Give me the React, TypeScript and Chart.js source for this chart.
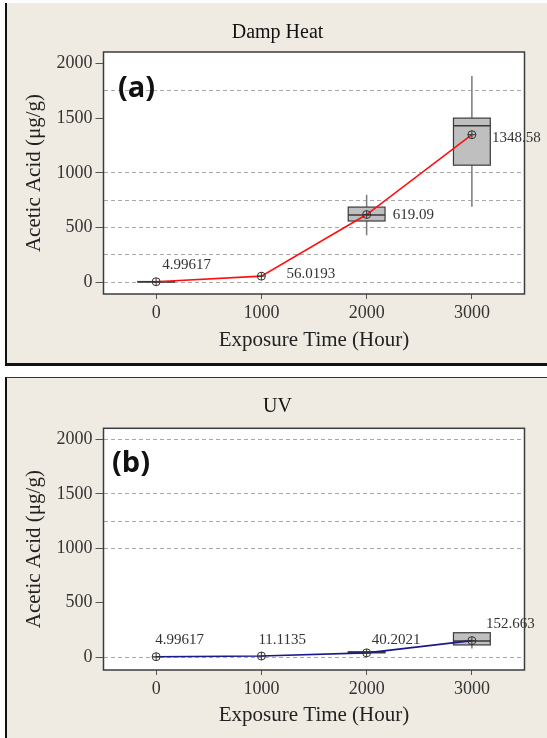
import React, { useEffect, useRef } from "react";
import { Chart, registerables } from "chart.js";

Chart.register(...registerables);

// ---------- data ----------
const HOURS = [0, 1000, 2000, 3000];
const X_TICKS = [0, 1000, 2000, 3000];
const Y_TICKS = [0, 250, 500, 750, 1000, 1250, 1500, 1750, 2000];
const Y_LABELS = [0, 500, 1000, 1500, 2000];

// Damp Heat (a)
const DH_MEAN = [4.99617, 56.0193, 619.09, 1348.58];
const DH_TEXT = ["4.99617", "56.0193", "619.09", "1348.58"];
const DH_Q1: (number | null)[] = [3, null, 560, 1070];
const DH_MED: (number | null)[] = [5, null, 614, 1430];
const DH_Q3: (number | null)[] = [7, null, 687, 1500];
const DH_LO: (number | null)[] = [3, null, 430, 690];
const DH_HI: (number | null)[] = [7, null, 800, 1885];
const DH_GRID = [0, 250, 500, 750, 1000, 1750];

// UV (b)
const UV_MEAN = [4.99617, 11.1135, 40.2021, 152.663];
const UV_TEXT = ["4.99617", "11.1135", "40.2021", "152.663"];
const UV_Q1: (number | null)[] = [null, null, 40, 113];
const UV_MED: (number | null)[] = [null, null, 45, 150];
const UV_Q3: (number | null)[] = [null, null, 50, 225];
const UV_LO: (number | null)[] = [null, null, 40, 80];
const UV_HI: (number | null)[] = [null, null, 50, 225];
const UV_GRID = [0, 1000, 1250, 1500, 2000];

// ---------- styles ----------
const SERIF = '"Liberation Serif", "Times New Roman", serif';
const PANEL_BG = "#efebe2";
const BOX_HALF = 175;

type PanelProps = {
  top: number;
  height: number;
  title: string;
  tag: string;
  mean: number[];
  text: string[];
  q1: (number | null)[];
  med: (number | null)[];
  q3: (number | null)[];
  lo: (number | null)[];
  hi: (number | null)[];
  grid: number[];
  lineColor: string;
  yMin: number;
  yMax: number;
  areaTop: number;
  areaBottom: number;
  titleY: number;
  tagX: number;
  tagY: number;
  xTitlePad: number;
  labelOffsets: [number, number][];
};

function Panel(p: PanelProps) {
  const ref = useRef<HTMLCanvasElement | null>(null);
  useEffect(() => {
    const canvas = ref.current;
    if (!canvas) return;
    const pts = HOURS.map((h, i) => ({ x: h, y: p.mean[i] }));

    const panelPlugin = {
      id: "panelPlugin",
      beforeDraw(chart: any) {
        const { ctx, chartArea: a } = chart;
        ctx.save();
        ctx.fillStyle = "#ffffff";
        ctx.fillRect(a.left, a.top, a.right - a.left, a.bottom - a.top);
        ctx.restore();
      },
      beforeDatasetsDraw(chart: any) {
        const { ctx, scales } = chart;
        const x = scales.x;
        const y = scales.y;
        HOURS.forEach((h, i) => {
          const q1 = p.q1[i];
          const q3 = p.q3[i];
          const md = p.med[i];
          const lo = p.lo[i];
          const hi = p.hi[i];
          if (q1 == null || q3 == null || md == null || lo == null || hi == null) return;
          const xc = x.getPixelForValue(h);
          const xl = x.getPixelForValue(h - BOX_HALF);
          const xr = x.getPixelForValue(h + BOX_HALF);
          const y1 = y.getPixelForValue(q1);
          const y3 = y.getPixelForValue(q3);
          const ym = y.getPixelForValue(md);
          const yl = y.getPixelForValue(lo);
          const yh = y.getPixelForValue(hi);
          ctx.save();
          ctx.strokeStyle = "#7c7c7c";
          ctx.lineWidth = 1.5;
          ctx.beginPath();
          ctx.moveTo(xc, yh);
          ctx.lineTo(xc, y3);
          ctx.moveTo(xc, y1);
          ctx.lineTo(xc, yl);
          ctx.stroke();
          ctx.fillStyle = "#bfbfbf";
          ctx.fillRect(xl, y3, xr - xl, y1 - y3);
          ctx.strokeStyle = "#3a3a3a";
          ctx.lineWidth = 1.2;
          ctx.strokeRect(xl, y3, xr - xl, y1 - y3);
          ctx.lineWidth = 1.5;
          ctx.beginPath();
          ctx.moveTo(xl, ym);
          ctx.lineTo(xr, ym);
          ctx.stroke();
          ctx.restore();
        });
      },
      afterDraw(chart: any) {
        const { ctx, chartArea: a, scales } = chart;
        ctx.save();
        // frame
        ctx.strokeStyle = "#3c3c3c";
        ctx.lineWidth = 1.5;
        ctx.strokeRect(a.left, a.top, a.right - a.left, a.bottom - a.top);
        // title
        ctx.fillStyle = "#111";
        ctx.font = `20px ${SERIF}`;
        ctx.textAlign = "center";
        ctx.textBaseline = "middle";
        ctx.fillText(p.title, 277.5, p.titleY);
        // tag
        ctx.font = `bold 29px "Open Sans", "DejaVu Sans", sans-serif`;
        ctx.textAlign = "left";
        ctx.fillText(p.tag, p.tagX, p.tagY);
        // data labels
        ctx.font = `15px ${SERIF}`;
        ctx.fillStyle = "#333";
        HOURS.forEach((h, i) => {
          const px = scales.x.getPixelForValue(h);
          const py = scales.y.getPixelForValue(p.mean[i]);
          const [dx, dy] = p.labelOffsets[i];
          ctx.fillText(p.text[i], px + dx, py + dy);
        });
        ctx.restore();
      },
    };

    const chart = new Chart(canvas, {
      type: "scatter",
      data: {
        datasets: [
          {
            data: pts,
            pointStyle: "circle",
            pointRadius: 4,
            borderColor: "#333",
            backgroundColor: "rgba(0,0,0,0)",
            borderWidth: 1,
            order: 0,
          },
          {
            data: pts,
            pointStyle: "cross",
            pointRadius: 4,
            borderColor: "#333",
            borderWidth: 1,
            order: 0,
          },
          {
            data: pts,
            showLine: true,
            borderColor: p.lineColor,
            borderWidth: 1.6,
            pointRadius: 0,
            tension: 0,
            order: 1,
          },
        ],
      } as any,
      options: {
        responsive: false,
        maintainAspectRatio: false,
        devicePixelRatio: 1,
        animation: false,
        events: [],
        layout: { padding: { top: p.areaTop, right: 22.5, left: 0, bottom: 0 } },
        plugins: { legend: { display: false }, tooltip: { enabled: false }, title: { display: false } },
        scales: {
          x: {
            type: "linear",
            min: -500,
            max: 3500,
            afterBuildTicks: (s: any) => {
              s.ticks = X_TICKS.map((v) => ({ value: v }));
            },
            afterFit: (s: any) => {
              s.height = p.height - p.areaBottom;
            },
            ticks: {
              callback: (v: any) => String(v),
              font: { family: SERIF, size: 18 },
              color: "#333",
              padding: 3,
              maxRotation: 0,
              autoSkip: false,
            },
            grid: { color: "rgba(0,0,0,0)", tickColor: "#555", tickLength: 5, lineWidth: 1 },
            border: { display: false },
            title: {
              display: true,
              text: "Exposure Time (Hour)",
              font: { family: SERIF, size: 21 },
              color: "#222",
              padding: { top: 0, bottom: p.xTitlePad },
            },
          },
          y: {
            type: "linear",
            min: p.yMin,
            max: p.yMax,
            afterBuildTicks: (s: any) => {
              s.ticks = Y_TICKS.map((v) => ({ value: v }));
            },
            afterFit: (s: any) => {
              s.width = 103.5;
            },
            ticks: {
              callback: (v: any) => (Y_LABELS.includes(v) ? String(v) : ""),
              font: { family: SERIF, size: 18 },
              color: "#333",
              padding: 3,
              autoSkip: false,
            },
            grid: {
              color: (c: any) => (c.tick && p.grid.includes(c.tick.value) ? "#a9a9a9" : "rgba(0,0,0,0)"),
              tickColor: (c: any) => (c.tick && Y_LABELS.includes(c.tick.value) ? "#555" : "rgba(0,0,0,0)"),
              tickLength: 8,
              lineWidth: 1,
            },
            border: { display: false, dash: [4, 3] },
            title: {
              display: true,
              text: "Acetic Acid (μg/g)",
              font: { family: SERIF, size: 21 },
              color: "#222",
              padding: { top: 21.4, bottom: 0 },
            },
          },
        },
      } as any,
      plugins: [panelPlugin],
    });
    return () => chart.destroy();
  }, []);
  return (
    <canvas
      ref={ref}
      width={547}
      height={p.height}
      style={{ position: "absolute", left: 0, top: p.top, width: 547, height: p.height }}
    />
  );
}

export default function App() {
  return (
    <div style={{ position: "absolute", left: 0, top: 0, width: 547, height: 738, background: "#fff", overflow: "hidden" }}>
      <div
        style={{
          position: "absolute",
          left: 5,
          top: 3,
          width: 542,
          height: 363,
          background: PANEL_BG,
          borderLeft: "2px solid #111",
          borderBottom: "3px solid #111",
          boxSizing: "border-box",
        }}
      />
      <div
        style={{
          position: "absolute",
          left: 5,
          top: 376.5,
          width: 542,
          height: 362,
          background: PANEL_BG,
          borderLeft: "2px solid #111",
          borderTop: "1.5px solid #333",
          boxSizing: "border-box",
        }}
      />
      <Panel
        top={0}
        height={365}
        title="Damp Heat"
        tag="(a)"
        mean={DH_MEAN}
        text={DH_TEXT}
        q1={DH_Q1}
        med={DH_MED}
        q3={DH_Q3}
        lo={DH_LO}
        hi={DH_HI}
        grid={DH_GRID}
        lineColor="#ff1010"
        yMin={-107}
        yMax={2104}
        areaTop={52}
        areaBottom={294}
        titleY={33}
        tagX={118}
        tagY={89}
        xTitlePad={12.4}
        labelOffsets={[
          [6, -17],
          [25, -2],
          [26, 1],
          [20, 3],
        ]}
      />
      <Panel
        top={370}
        height={368}
        title="UV"
        tag="(b)"
        mean={UV_MEAN}
        text={UV_TEXT}
        q1={UV_Q1}
        med={UV_MED}
        q3={UV_Q3}
        lo={UV_LO}
        hi={UV_HI}
        grid={UV_GRID}
        lineColor="#1a1a8c"
        yMin={-117}
        yMax={2101}
        areaTop={58.3}
        areaBottom={300}
        titleY={36.7}
        tagX={112}
        tagY={93.5}
        xTitlePad={10.4}
        labelOffsets={[
          [-1, -17],
          [-3, -16],
          [5, -13],
          [14, -17],
        ]}
      />
    </div>
  );
}
